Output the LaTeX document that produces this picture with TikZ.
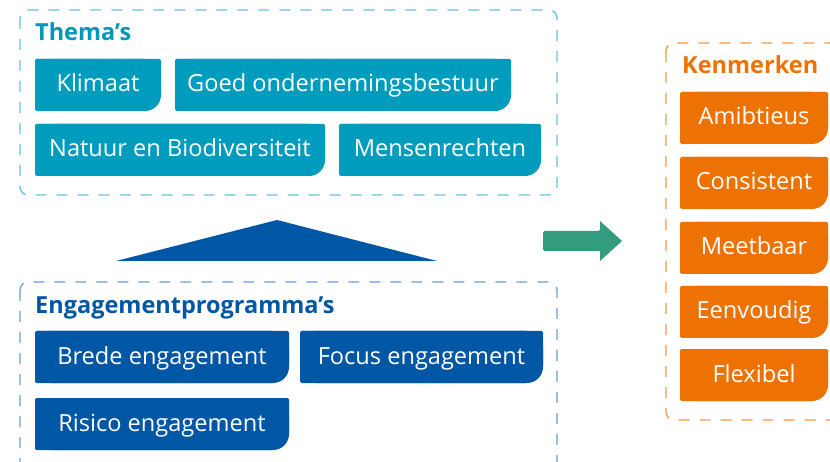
\documentclass[tikz,border=0pt]{standalone}
\usepackage{fontspec}
\setmainfont{Open Sans}
\definecolor{cTeal}{HTML}{009CBD}
\definecolor{cTealTitle}{HTML}{0097BA}
\definecolor{cTealDash}{HTML}{62C3DA}
\definecolor{cBlue}{HTML}{0057A6}
\definecolor{cBlueDash}{HTML}{6A9BD2}
\definecolor{cOrange}{HTML}{EE7203}
\definecolor{cOrangeDash}{HTML}{F29646}
\definecolor{cGreen}{HTML}{339C7E}
\newcommand\cbox[7]{%
  \fill[#6,rounded corners=16pt] (#2,#3) rectangle (#4,#5);
  \fill[#6,rounded corners=1.5pt] (#2,#3) rectangle ({#4-16},#5);
  \fill[#6,rounded corners=1.5pt] (#2,#3) rectangle (#4,{#5-16});
  \node[boxtext] (#1) at ({(#2+#4)/2},{#3+33}) {#7};
}
\begin{document}
\begin{tikzpicture}[x=1pt,y=-1pt,
  boxtext/.style={anchor=base,text=white,inner sep=0pt,font=\fontsize{23.6}{28}\selectfont},
  title/.style={anchor=base west,inner sep=0pt,font=\fontsize{23.5}{28}\selectfont\bfseries},
  container/.style={draw=#1,line width=1.3pt,dash pattern=on 11pt off 10pt,rounded corners=8pt}]
\useasboundingbox (0,0) rectangle (830,462);
\clip (0,0) rectangle (830,462);

% Thema's
\draw[container=cTealDash] (20,10) rectangle (557,195);
\node[title,text=cTealTitle] (thema) at (35,41) {Thema’s};
\cbox{klimaat}{35}{59}{161}{111}{cTeal}{Klimaat}
\cbox{goed}{175}{59}{511}{111}{cTeal}{Goed ondernemingsbestuur}
\cbox{natuur}{35}{124}{325}{176}{cTeal}{Natuur en Biodiversiteit}
\cbox{mensen}{339}{124}{541}{176}{cTeal}{Mensenrechten}

% triangle
\fill[cBlue] (116,261) -- (277,220) -- (437,261) -- cycle;

% Engagement
\draw[container=cBlueDash] (20,282) rectangle (557,470);
\node[title,text=cBlue] (eng) at (35,313) {Engagementprogramma’s};
\cbox{brede}{35}{331}{289}{383}{cBlue}{Brede engagement}
\cbox{focus}{300}{331}{543}{383}{cBlue}{Focus engagement}
\cbox{risico}{35}{398}{289}{450}{cBlue}{Risico engagement}

% green arrow
\fill[cGreen,rounded corners=1.5pt] (543,231) -- (600,231) [sharp corners] -- (600,221) -- (622,241) -- (600,261) -- (600,251) [rounded corners=1.5pt] -- (543,251) -- cycle;

% Kenmerken
\draw[container=cOrangeDash] (666,43) rectangle (845,420);
\node[title,text=cOrange] (ken) at (682,74) {Kenmerken};
\cbox{amb}{680}{92}{828}{144}{cOrange}{Amibtieus}
\cbox{cons}{680}{157}{828}{209}{cOrange}{Consistent}
\cbox{meet}{680}{222}{828}{274}{cOrange}{Meetbaar}
\cbox{eenv}{680}{286}{828}{338}{cOrange}{Eenvoudig}
\cbox{flex}{680}{349}{828}{401}{cOrange}{Flexibel}
\end{tikzpicture}
\end{document}
